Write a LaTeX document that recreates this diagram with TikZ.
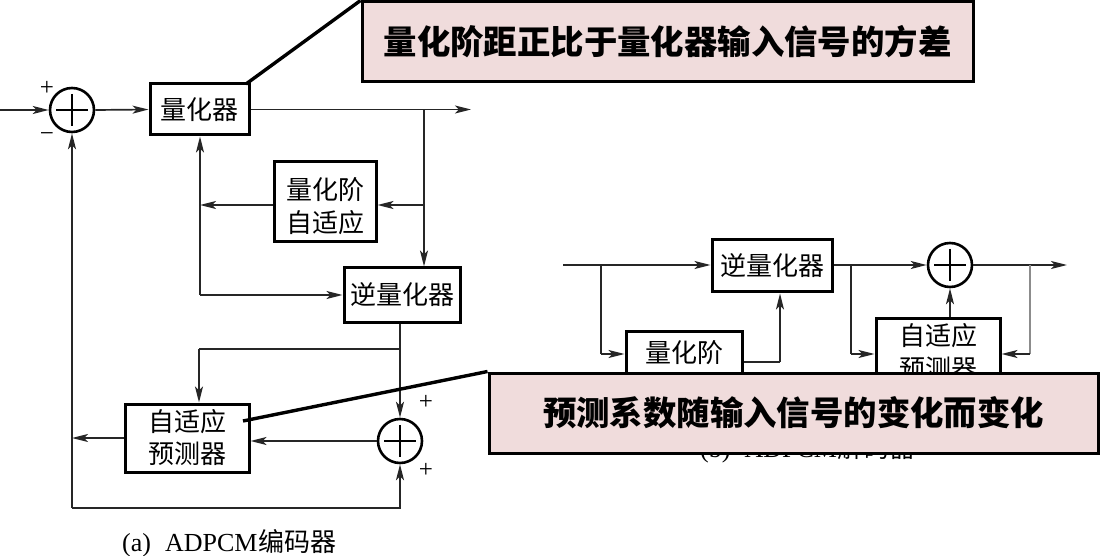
\documentclass[tikz,border=0pt]{standalone}
\usepackage{fontspec}
\setmainfont{Liberation Serif}
\newfontfamily\cjk{Noto Sans CJK SC}
\usetikzlibrary{arrows.meta}
\definecolor{calloutfill}{RGB}{240,220,220}
\tikzset{
  block/.style={draw=black,fill=white,line width=3pt,inner sep=0pt,align=center,font=\cjk\fontsize{26}{33}\selectfont},
  sumnode/.style={circle,draw=black,fill=white,line width=2.6pt,inner sep=0pt,minimum size=44pt,
    path picture={\draw[line width=1.8pt] ([yshift=-6pt]path picture bounding box.north) -- ([yshift=6pt]path picture bounding box.south)
      ([xshift=6pt]path picture bounding box.west) -- ([xshift=-6pt]path picture bounding box.east);}},
  signal/.style={draw=black!85,line width=1.7pt},
  faint/.style={draw=black!45,line width=1.7pt},
  flow/.style={signal,-{Stealth[length=16pt,width=8pt,inset=4pt]}},
  callout/.style={draw=black,fill=calloutfill,line width=3pt,inner sep=0pt,font=\cjk\bfseries\fontsize{33.4}{40}\selectfont},
  leader/.style={draw=black,line width=3.4pt},
  sign/.style={inner sep=0pt,font=\fontsize{25}{26}\selectfont},
  caption/.style={inner sep=0pt,anchor=base west,font=\fontsize{26}{30}\selectfont}
}
\begin{document}
\begin{tikzpicture}[x=1pt,y=-1pt]
\path[use as bounding box] (0,0) rectangle (1101,556);
% encoder
\node[sumnode] (sumA) at (72,110) {};
\node[block,minimum width=99pt,minimum height=51pt] (quantA) at (199.5,109.5) {量化器};
\node[block,minimum width=102pt,minimum height=80pt] (stepA) at (325,202) {\rule{0pt}{30pt}量化阶\\自适应};
\node[block,minimum width=116pt,minimum height=54pt] (invA) at (402,295) {逆量化器};
\node[block,minimum width=124pt,minimum height=68pt] (predA) at (187,438) {自适应\\[-1pt]预测器};
\node[sumnode] (sumB) at (400,441) {};
\node[sign] (plusA) at (47,88) {+};
\node[sign] (minusA) at (47,137) {−};
\node[sign] (plusB) at (426,402) {+};
\node[sign] (plusC) at (426,470) {+};
\node[caption] (capA) at (122,551) {(a)\hspace{14pt}ADPCM\hspace{1pt}{\cjk 编码器}};
\coordinate (inA) at (0,110);
\coordinate (outA) at (471,109.5);
\coordinate (tapA) at (424,109.5);
\coordinate (tapB) at (424,205);
\coordinate (tapC) at (200,205);
\coordinate (tapD) at (200,295);
\coordinate (tapE) at (400,349);
\coordinate (tapF) at (199,349);
\coordinate (tapG) at (72,438);
\coordinate (tapH) at (72,508);
\draw[flow] (inA) -- (sumA.west);
\draw[flow] (sumA.east) -- (quantA.west);
\draw[flow] (quantA.east) -- (outA);
\draw[flow] (tapA) -- (invA.north -| tapA);
\draw[flow] (tapB) -- (stepA.east |- tapB);
\draw[flow] (stepA.west |- tapC) -- (tapC);
\draw[flow] (tapD) -- (quantA.south -| tapD);
\draw[flow] (tapD) -- (invA.west);
\draw[flow] (invA.south -| sumB) -- (sumB.north);
\draw[signal] (tapE) -- (tapF);
\draw[flow] (tapF) -- (predA.north -| tapF);
\draw[flow] (sumB.west) -- (predA.east |- sumB);
\draw[flow] (predA.west) -- (tapG);
\draw[flow] (tapH) -- (sumA.south);
\draw[flow] (tapH) -| (sumB.south);
% decoder
\node[block,minimum width=120pt,minimum height=52pt] (invB) at (772,266) {逆量化器};
\node[sumnode] (sumC) at (950,265) {};
\node[block,minimum width=116pt,minimum height=76pt] (stepB) at (684,369) {量化阶\\自适应};
\node[block,minimum width=124pt,minimum height=68pt] (predB) at (938,352) {自适应\\预测器};
\node[caption] (capB) at (700,457) {(b)\hspace{14pt}ADPCM\hspace{1pt}{\cjk 解码器}};
\coordinate (inB) at (563,265);
\coordinate (outB) at (1067,265);
\coordinate (tapI) at (601,265);
\coordinate (tapJ) at (601,354);
\coordinate (tapK) at (851,265);
\coordinate (tapL) at (851,354);
\coordinate (tapM) at (1030,265);
\coordinate (tapN) at (1030,354);
\coordinate (tapO) at (780,362);
\draw[flow] (inB) -- (invB.west |- inB);
\draw[signal] (tapI) -- (tapJ);
\draw[flow] (tapJ) -- (stepB.west |- tapJ);
\draw[signal] (stepB.east |- tapO) -- (tapO);
\draw[flow] (tapO) -- (invB.south -| tapO);
\draw[flow] (invB.east |- sumC) -- (sumC.west);
\draw[signal] (tapK) -- (tapL);
\draw[flow] (tapL) -- (predB.west |- tapL);
\draw[flow] (sumC.east) -- (outB);
\draw[faint] (tapM) -- (tapN);
\draw[flow] (tapN) -- (predB.east |- tapN);
\draw[flow] (predB.north -| sumC) -- (sumC.south);
% callouts
\coordinate (footA) at (246,84);
\coordinate (footB) at (243,421);
\node[callout,minimum width=611pt,minimum height=80pt] (noteA) at (667.5,42) {量化阶距正比于量化器输入信号的方差};
\node[callout,minimum width=609pt,minimum height=80pt] (noteB) at (793.5,413) {预测系数随输入信号的变化而变化};
\draw[leader] (footA) -- (noteA.north west);
\draw[leader] (footB) -- (noteB.north west);
\end{tikzpicture}
\end{document}
